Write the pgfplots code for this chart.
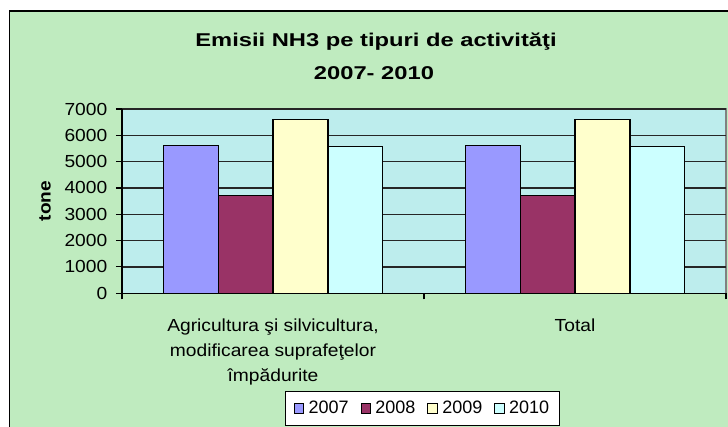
\documentclass[border=0pt]{standalone}
\usepackage{pgfplots}
\pgfplotsset{compat=1.18}
\usepackage{fontspec}
\setmainfont{Liberation Sans}
\newfontfamily\tickfont[FakeStretch=1.1]{Liberation Sans}
\newfontfamily\titlefont[FakeStretch=1.28]{Liberation Sans}
\definecolor{bgout}{HTML}{BFEBBF}
\definecolor{bgplot}{HTML}{BDEDED}
\definecolor{cA}{HTML}{9999FF}
\definecolor{cB}{HTML}{993366}
\definecolor{cC}{HTML}{FFFFCC}
\definecolor{cD}{HTML}{CCFFFF}
\pgfplotsset{sqleg/.style={legend image code/.code={\draw[##1,line width=0.6pt] (0pt,-3.5pt) rectangle (7pt,3.5pt);}}}
\begin{document}
\begin{tikzpicture}[x=0.75pt,y=0.75pt]
\path[use as bounding box] (0,0) rectangle (728,427);
\begin{scope}
\clip (0,0) rectangle (728,427);
\filldraw[fill=bgout, draw=black, line width=1.1pt] (9.5,-10) rectangle (740,416);
\end{scope}
\node[anchor=base, font=\titlefont\bfseries\fontsize{13.9}{16}\selectfont] at (376,380) {Emisii NH3 pe tipuri de activităţi};
\node[anchor=base, font=\titlefont\bfseries\fontsize{13.9}{16}\selectfont] at (374,347) {2007- 2010};
\node[rotate=90, font=\tickfont\bfseries\fontsize{13}{15}\selectfont] at (45,226) {tone};
\begin{axis}[
  at={(91.5pt,100.3pt)}, anchor=south west,
  width=453pt, height=138.2pt, scale only axis,
  xmin=-0.5, xmax=1.5, ymin=0, ymax=7000,
  axis lines=left,
  axis line style={-, black, line width=1pt},
  axis background/.style={fill=bgplot, draw=gray, line width=1pt},
  ytick={0,1000,...,7000},
  ymajorgrids,
  major grid style={black!85, line width=1pt},
  tick align=outside,
  major tick length=4.5pt,
  tick style={black, line width=0.8pt},
  /pgf/number format/assume math mode=true,
  /pgf/number format/1000 sep={},
  scaled y ticks=false,
  yticklabel style={font=\tickfont\fontsize{13.1}{15}\selectfont, xshift=-3pt},
  xtick={-0.5,0.5,1.5},
  xticklabels={},
  extra x ticks={0,1},
  extra x tick labels={{Agricultura şi silvicultura,\\modificarea suprafeţelor\\împădurite},{Total}},
  extra x tick style={major tick length=0pt},
  xticklabel style={font=\tickfont\fontsize{13.1}{18.75}\selectfont, align=center, yshift=-15.5pt},
  ybar=0pt,
  bar width=0.182,
  legend columns=4,
  legend style={at={(0.498,-0.625)}, anchor=center, draw=black, fill=white, line width=0.8pt,
    font=\fontsize{13.5}{16}\selectfont, inner xsep=6pt, inner ysep=5.5pt,
    /tikz/every odd column/.append style={column sep=1.5pt},
    /tikz/every even column/.append style={column sep=7pt}},
]
\addplot[sqleg, fill=cA, draw=black, line width=0.8pt, bar shift=-0.273] coordinates {(0,5600) (1,5600)};
\addplot[sqleg, fill=cB, draw=black, line width=0.8pt, bar shift=-0.091] coordinates {(0,3710) (1,3710)};
\addplot[sqleg, fill=cC, draw=black, line width=0.8pt, bar shift=0.091] coordinates {(0,6590) (1,6590)};
\addplot[sqleg, fill=cD, draw=black, line width=0.8pt, bar shift=0.273] coordinates {(0,5560) (1,5560)};
\legend{2007,2008,2009,2010}
\end{axis}
\end{tikzpicture}
\end{document}
